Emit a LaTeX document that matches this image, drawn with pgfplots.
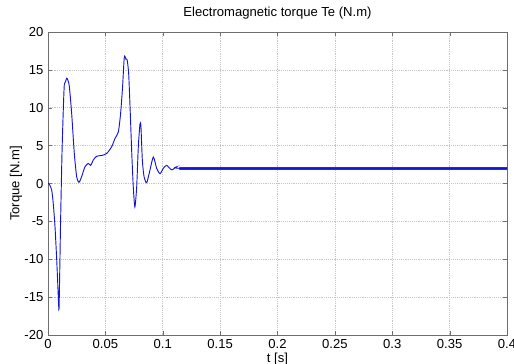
\documentclass[border=0pt]{standalone}
\usepackage{pgfplots}
\pgfplotsset{compat=1.18}
\usepackage{fontspec}
\setmainfont{Liberation Sans}
\usetikzlibrary{calc}
\definecolor{mblue}{RGB}{20,20,215}
\definecolor{axgray}{RGB}{110,110,110}
\begin{document}
\begin{tikzpicture}
\fontsize{9.8}{11.5}\selectfont
\begin{axis}[
  scale only axis,
  width=344.25pt, height=227.25pt,
  xmin=0, xmax=0.4, ymin=-20, ymax=20,
  xtick={0,0.05,0.1,0.15,0.2,0.25,0.3,0.35,0.4},
  xticklabels={0,0.05,0.1,0.15,0.2,0.25,0.3,0.35,0.4},
  ytick={-20,-15,-10,-5,0,5,10,15,20},
  yticklabels={-20,-15,-10,-5,0,5,10,15,20},
  tick align=inside,
  major tick length=3pt,
  axis line style={axgray},
  tick style={axgray},
  grid=major,
  grid style={densely dotted, gray!45, line width=0.4pt},
  ticklabel style={font=\fontsize{9.8}{11.5}\selectfont},
  title={Electromagnetic torque Te (N.m)},
  title style={at={(axis description cs:0.5,1.0264)}, anchor=base, inner sep=0pt, font=\fontsize{9.8}{11.5}\selectfont},
  xlabel={t [s]},
  xlabel style={at={(axis description cs:0.5,-0.059)}, anchor=north, inner sep=0pt, font=\fontsize{9.8}{11.5}\selectfont},
  ylabel={Torque [N.m]},
  ylabel style={at={(axis description cs:-0.0697,0.5)}, anchor=center, inner sep=0pt, font=\fontsize{9.8}{11.5}\selectfont},
]
\coordinate (SW) at (axis description cs:0,0);
\coordinate (NE) at (axis description cs:1,1);
\addplot[mblue, line width=2.2pt, opacity=0.9, line cap=round] coordinates {
(0.115,2.0) (0.2,2.0) (0.3,2.0) (0.4,2.0)
};
\addplot[mblue, line width=0.7pt, smooth, tension=0.4] coordinates {
(0,0.1) (0.0015,-0.2) (0.0032,-0.86) (0.0045,-2.5) (0.0061,-5.7) (0.0076,-10.1) (0.009,-15) (0.0096,-16.6)
(0.0103,-11) (0.011,-4.8) (0.0122,4.0) (0.0134,10.1) (0.0142,13.0) (0.0152,13.4) (0.0163,13.9) (0.0172,13.7)
(0.0186,12.8) (0.0206,9.3) (0.0229,4.0) (0.025,0.9) (0.027,0.15) (0.0293,0.9) (0.0322,2.2)
(0.0351,2.65) (0.0372,2.4) (0.0395,3.1) (0.0424,3.6) (0.0468,3.7) (0.0511,3.96) (0.0555,4.85)
(0.0584,5.96) (0.0613,6.8) (0.0633,9.3) (0.065,12.8) (0.0665,16.7) (0.068,16.4) (0.069,16.3)
(0.0703,14.5) (0.0715,10.1) (0.073,4.0) (0.0743,-0.4) (0.0757,-3.1) (0.0773,-0.4) (0.0787,4.85)
(0.0802,7.9) (0.081,7.5) (0.0822,3.1) (0.0837,0.9) (0.086,0.1) (0.0889,1.8) (0.0918,3.5)
(0.0947,2.0) (0.0976,1.3) (0.1005,2.0) (0.1034,2.4) (0.1078,1.8) (0.112,2.2) (0.116,2.0) (0.2,2.0) (0.4,2.0)
};
\end{axis}
\pgfresetboundingbox
\useasboundingbox ($(SW)+(-36pt,-21pt)$) rectangle ($(NE)+(5.25pt,24pt)$);
\end{tikzpicture}
\end{document}
